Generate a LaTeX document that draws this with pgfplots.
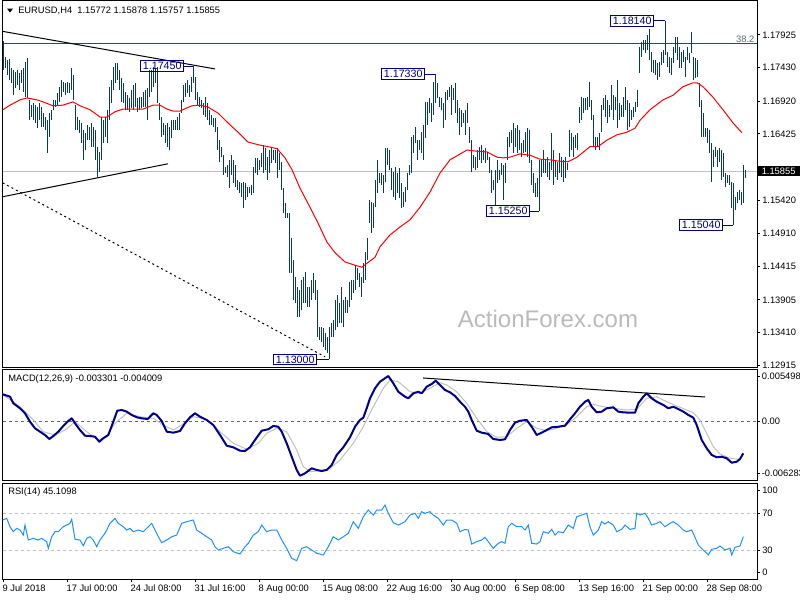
\documentclass[border=0pt]{standalone}
\usepackage{pgfplots}
\pgfplotsset{compat=1.18}
\usepackage{pgfplotstable}
\usepackage{fontspec}
\setmainfont{Liberation Sans}
\definecolor{barc}{RGB}{10,58,88}
\definecolor{navy}{RGB}{0,0,128}
\definecolor{macdc}{RGB}{0,0,139}
\definecolor{sigc}{RGB}{192,192,192}
\definecolor{rsic}{RGB}{30,144,255}
\definecolor{fibc}{RGB}{47,79,79}
\definecolor{lgray}{RGB}{192,192,192}

\pgfplotstableread{
x hi lo
3 1.1783 1.1739
5 1.1759 1.1742
7 1.1755 1.1732
9 1.1756 1.1724
11 1.1742 1.1720
13 1.1739 1.1701
15 1.1736 1.1712
17 1.1739 1.1717
19 1.1735 1.1709
21 1.1739 1.1720
23 1.1742 1.1706
25 1.1752 1.1698
27 1.1758 1.1697
29 1.1694 1.1663
31 1.1686 1.1668
33 1.1689 1.1663
35 1.1686 1.1659
37 1.1683 1.1651
39 1.1689 1.1663
41 1.1683 1.1653
43 1.1674 1.1653
45 1.1668 1.1648
47 1.1663 1.1613
49 1.1674 1.1638
51 1.1679 1.1663
53 1.1694 1.1679
55 1.1694 1.1683
57 1.1705 1.1686
59 1.1714 1.1691
61 1.1724 1.1698
63 1.1721 1.1706
65 1.1720 1.1701
67 1.1721 1.1705
69 1.1720 1.1705
71 1.1742 1.1709
73 1.1732 1.1694
75 1.1686 1.1648
77 1.1668 1.1648
79 1.1663 1.1644
81 1.1659 1.1629
83 1.1648 1.1603
85 1.1644 1.1618
87 1.1656 1.1633
89 1.1653 1.1633
91 1.1659 1.1623
93 1.1653 1.1623
95 1.1648 1.1603
97 1.1623 1.1577
99 1.1615 1.1585
101 1.1668 1.1603
103 1.1663 1.1629
105 1.1668 1.1638
107 1.1679 1.1629
109 1.1714 1.1663
111 1.1724 1.1689
113 1.1744 1.1709
115 1.1750 1.1720
117 1.1750 1.1724
119 1.1739 1.1709
121 1.1727 1.1691
123 1.1720 1.1689
125 1.1706 1.1679
127 1.1701 1.1679
129 1.1697 1.1676
131 1.1709 1.1682
133 1.1717 1.1679
135 1.1720 1.1683
137 1.1697 1.1676
139 1.1698 1.1679
141 1.1698 1.1682
143 1.1706 1.1683
145 1.1709 1.1683
147 1.1712 1.1663
149 1.1739 1.1698
151 1.1739 1.1706
153 1.1744 1.1714
155 1.1742 1.1720
157 1.1744 1.1689
159 1.1689 1.1663
161 1.1668 1.1638
163 1.1659 1.1641
165 1.1656 1.1629
167 1.1659 1.1623
169 1.1653 1.1618
171 1.1663 1.1636
173 1.1663 1.1648
175 1.1663 1.1648
177 1.1668 1.1648
179 1.1674 1.1648
181 1.1694 1.1674
183 1.1717 1.1691
185 1.1720 1.1698
187 1.1724 1.1704
189 1.1717 1.1698
191 1.1729 1.1706
193 1.1745 1.1720
195 1.1729 1.1694
197 1.1706 1.1686
199 1.1698 1.1683
201 1.1694 1.1682
203 1.1689 1.1671
205 1.1698 1.1668
207 1.1689 1.1663
209 1.1679 1.1656
211 1.1671 1.1656
213 1.1667 1.1653
215 1.1667 1.1645
217 1.1653 1.1618
219 1.1633 1.1600
221 1.1623 1.1607
223 1.1610 1.1580
225 1.1592 1.1583
227 1.1595 1.1577
229 1.1603 1.1560
231 1.1610 1.1580
233 1.1603 1.1568
235 1.1595 1.1562
237 1.1572 1.1557
239 1.1569 1.1553
241 1.1568 1.1547
243 1.1569 1.1530
245 1.1568 1.1542
247 1.1562 1.1547
249 1.1562 1.1553
251 1.1565 1.1550
253 1.1592 1.1553
255 1.1606 1.1583
257 1.1606 1.1580
259 1.1603 1.1588
261 1.1613 1.1592
263 1.1626 1.1583
265 1.1621 1.1588
267 1.1607 1.1572
269 1.1618 1.1583
271 1.1621 1.1598
273 1.1618 1.1603
275 1.1618 1.1598
277 1.1621 1.1575
279 1.1613 1.1588
281 1.1600 1.1557
283 1.1560 1.1522
285 1.1538 1.1515
287 1.1522 1.1515
289 1.1522 1.1431
291 1.1484 1.1431
293 1.1451 1.1390
295 1.1425 1.1386
297 1.1410 1.1364
299 1.1405 1.1364
301 1.1421 1.1375
303 1.1425 1.1386
305 1.1433 1.1386
307 1.1410 1.1380
309 1.1410 1.1380
311 1.1421 1.1390
313 1.1431 1.1401
315 1.1421 1.1390
317 1.1405 1.1334
319 1.1349 1.1330
321 1.1349 1.1327
323 1.1348 1.1319
325 1.1340 1.1314
327 1.1334 1.1310
329 1.1349 1.1300
331 1.1355 1.1334
333 1.1360 1.1334
335 1.1390 1.1345
337 1.1398 1.1349
339 1.1386 1.1355
341 1.1410 1.1355
343 1.1390 1.1349
345 1.1395 1.1370
347 1.1390 1.1370
349 1.1418 1.1380
351 1.1421 1.1390
353 1.1421 1.1401
355 1.1443 1.1405
357 1.1439 1.1421
359 1.1431 1.1410
361 1.1425 1.1395
363 1.1446 1.1416
365 1.1463 1.1421
367 1.1484 1.1451
369 1.1542 1.1507
371 1.1539 1.1492
373 1.1538 1.1499
375 1.1572 1.1531
377 1.1603 1.1553
379 1.1583 1.1568
381 1.1583 1.1565
383 1.1580 1.1553
385 1.1621 1.1569
387 1.1621 1.1595
389 1.1618 1.1588
391 1.1591 1.1557
393 1.1585 1.1547
395 1.1592 1.1542
397 1.1583 1.1553
399 1.1591 1.1545
401 1.1568 1.1530
403 1.1554 1.1531
405 1.1562 1.1539
407 1.1583 1.1557
409 1.1595 1.1580
411 1.1638 1.1583
413 1.1641 1.1613
415 1.1653 1.1629
417 1.1633 1.1603
419 1.1633 1.1618
421 1.1645 1.1613
423 1.1656 1.1603
425 1.1691 1.1636
427 1.1691 1.1656
429 1.1697 1.1674
431 1.1689 1.1660
433 1.1721 1.1671
435 1.1733 1.1689
437 1.1720 1.1697
439 1.1698 1.1683
441 1.1697 1.1679
443 1.1689 1.1651
445 1.1706 1.1663
447 1.1709 1.1694
449 1.1714 1.1698
451 1.1717 1.1671
453 1.1712 1.1694
455 1.1720 1.1674
457 1.1694 1.1659
459 1.1682 1.1641
461 1.1679 1.1653
463 1.1674 1.1659
465 1.1679 1.1641
467 1.1689 1.1659
469 1.1653 1.1629
471 1.1633 1.1585
473 1.1610 1.1591
475 1.1607 1.1588
477 1.1618 1.1591
479 1.1623 1.1603
481 1.1626 1.1598
483 1.1618 1.1603
485 1.1621 1.1598
487 1.1615 1.1603
489 1.1607 1.1583
491 1.1588 1.1553
493 1.1572 1.1557
495 1.1588 1.1534
497 1.1603 1.1568
499 1.1588 1.1572
501 1.1598 1.1580
503 1.1595 1.1542
505 1.1598 1.1568
507 1.1638 1.1603
509 1.1645 1.1623
511 1.1648 1.1629
513 1.1659 1.1613
515 1.1651 1.1623
517 1.1656 1.1613
519 1.1648 1.1618
521 1.1629 1.1607
523 1.1633 1.1613
525 1.1645 1.1615
527 1.1651 1.1607
529 1.1648 1.1598
531 1.1603 1.1565
533 1.1583 1.1553
535 1.1568 1.1547
537 1.1575 1.1547
539 1.1603 1.1525
541 1.1603 1.1577
543 1.1618 1.1583
545 1.1603 1.1583
547 1.1607 1.1577
549 1.1600 1.1572
551 1.1644 1.1588
553 1.1618 1.1565
555 1.1603 1.1577
557 1.1600 1.1572
559 1.1613 1.1583
561 1.1607 1.1577
563 1.1603 1.1569
565 1.1607 1.1575
567 1.1598 1.1588
569 1.1648 1.1607
571 1.1644 1.1618
573 1.1638 1.1607
575 1.1641 1.1621
577 1.1644 1.1618
579 1.1683 1.1659
581 1.1698 1.1663
583 1.1697 1.1674
585 1.1697 1.1679
587 1.1698 1.1679
589 1.1721 1.1683
591 1.1694 1.1663
593 1.1671 1.1623
595 1.1638 1.1618
597 1.1638 1.1623
599 1.1644 1.1618
601 1.1686 1.1645
603 1.1697 1.1679
605 1.1701 1.1668
607 1.1694 1.1659
609 1.1686 1.1668
611 1.1717 1.1679
613 1.1701 1.1663
615 1.1698 1.1679
617 1.1724 1.1651
619 1.1689 1.1663
621 1.1686 1.1668
623 1.1698 1.1668
625 1.1714 1.1679
627 1.1694 1.1648
629 1.1689 1.1653
631 1.1679 1.1663
633 1.1683 1.1668
635 1.1691 1.1676
637 1.1709 1.1683
639 1.1774 1.1735
641 1.1782 1.1759
643 1.1785 1.1770
645 1.1785 1.1765
647 1.1793 1.1770
649 1.1802 1.1755
651 1.1767 1.1736
653 1.1755 1.1735
655 1.1755 1.1732
657 1.1750 1.1724
659 1.1752 1.1729
661 1.1767 1.1747
663 1.1770 1.1750
665 1.1814 1.1762
667 1.1767 1.1744
669 1.1759 1.1735
671 1.1758 1.1732
673 1.1774 1.1750
675 1.1789 1.1765
677 1.1789 1.1755
679 1.1774 1.1742
681 1.1767 1.1742
683 1.1770 1.1752
685 1.1759 1.1729
687 1.1774 1.1755
689 1.1765 1.1750
691 1.1797 1.1765
693 1.1759 1.1724
695 1.1758 1.1727
697 1.1755 1.1729
699 1.1720 1.1683
701 1.1694 1.1638
703 1.1674 1.1638
705 1.1651 1.1638
707 1.1651 1.1629
709 1.1648 1.1613
711 1.1629 1.1569
713 1.1618 1.1592
715 1.1623 1.1607
717 1.1618 1.1592
719 1.1621 1.1600
721 1.1618 1.1572
723 1.1613 1.1577
725 1.1583 1.1562
727 1.1580 1.1568
729 1.1580 1.1565
731 1.1569 1.1530
733 1.1568 1.1504
735 1.1547 1.1527
737 1.1554 1.1538
739 1.1557 1.1542
741 1.1554 1.1534
743 1.1595 1.1538
745 1.1588 1.1576
}\bars

\pgfplotsset{
  mtpanel/.style={
    scale only axis, width=565.725pt, xmin=2.7, xmax=757,
    anchor=south west,
    axis line style={line width=0.75pt},
    tick style={line width=0.75pt, black},
    tick align=outside, major tick length=2.25pt,
    ytick pos=right, yticklabel pos=right,
    scaled ticks=false,
    tick label style={font=\fontsize{7}{8}\selectfont},
    yticklabel style={anchor=west, inner sep=1.5pt},
    clip mode=individual,
  },
}
\tikzset{
  plab/.style={draw=navy, text=navy, line width=0.75pt,
    font=\fontsize{8}{9}\selectfont, inner xsep=1.5pt, inner ysep=1.2pt, anchor=east},
}

\begin{document}
\begin{tikzpicture}
\useasboundingbox (0,0) rectangle (600pt,450pt);

% ---------------- main price panel ----------------
\begin{axis}[mtpanel, at={(2.025pt,174pt)}, height=275.25pt,
  ymin=1.128701, ymax=1.184411, xtick=\empty,
  ytick={1.17925,1.17430,1.16920,1.16425,1.15420,1.14910,1.14415,1.13905,1.13410,1.12915},
  yticklabels={1.17925,1.17430,1.16920,1.16425,1.15420,1.14910,1.14415,1.13905,1.13410,1.12915}]
\addplot[lgray, line width=0.75pt] coordinates {(2.7,1.15855) (757,1.15855)};
\addplot[fibc, line width=0.75pt] coordinates {(2.7,1.1779) (757,1.1779)};
\addplot[draw=none, mark=none,
  error bars/.cd, y dir=both, y explicit, error mark=none,
  error bar style={line width=0.7pt, draw=barc, solid}]
  table[x=x, y expr={(\thisrow{hi}+\thisrow{lo})/2}, y error expr={(\thisrow{hi}-\thisrow{lo})/2}] {\bars};
\addplot[red, line width=0.75pt] coordinates {
(3,1.1679)(10,1.1686)(20,1.1694)(27,1.1697)(37,1.1694)(43,1.1691)(53,1.1685)(63,1.1686)
(73,1.1691)(80,1.1685)(90,1.1679)(100,1.1668)(107,1.1668)(115,1.1676)(123,1.1680)(133,1.1680)
(143,1.1680)(153,1.1686)(160,1.1686)(167,1.1680)(173,1.1677)(180,1.1677)(187,1.1682)(192,1.1685)
(200,1.1686)(208,1.1683)(218,1.1674)(228,1.1659)(238,1.1645)(248,1.1630)(258,1.1626)(268,1.1623)
(277,1.1620)(285,1.1606)(292,1.1588)(300,1.1560)(310,1.1531)(318,1.1507)(327,1.1478)(335,1.1462)
(345,1.1448)(355,1.1443)(362,1.1440)(367,1.1446)(375,1.1455)(380,1.1471)(390,1.1489)(400,1.1501)
(410,1.1512)(420,1.1531)(430,1.1554)(440,1.1583)(450,1.1603)(458,1.1610)(467,1.1618)(477,1.1616)
(487,1.1615)(497,1.1607)(503,1.1606)(510,1.1607)(520,1.1612)(530,1.1610)(540,1.1604)(550,1.1603)
(559,1.1601)(568,1.1600)(577,1.1607)(590,1.1623)(598,1.1623)(607,1.1633)(617,1.1641)(627,1.1645)
(635,1.1651)(640,1.1663)(650,1.1679)(663,1.1694)(673,1.1701)(683,1.1714)(693,1.1720)(697,1.1720)
(703,1.1714)(713,1.1698)(723,1.1679)(733,1.1659)(742,1.1644)};
\addplot[black, line width=0.75pt] coordinates {(2.7,1.1798) (215,1.1741)};
\addplot[black, line width=0.75pt] coordinates {(2.7,1.1547) (168,1.1597)};
\addplot[black, line width=0.75pt, dash pattern=on 1.5pt off 2.25pt] coordinates {(2.7,1.1568) (325,1.1304)};
% price labels
\node[plab] at (axis cs:184,1.1745) {1.17450};
\draw[navy, line width=0.75pt] (axis cs:184,1.1745) -- (axis cs:193,1.1745);
\node[plab] at (axis cs:425,1.1733) {1.17330};
\draw[navy, line width=0.75pt] (axis cs:425,1.1733) -- (axis cs:435,1.1733);
\node[plab] at (axis cs:654,1.1814) {1.18140};
\draw[navy, line width=0.75pt] (axis cs:654,1.1814) -- (axis cs:665,1.1814);
\node[plab] at (axis cs:530,1.1525) {1.15250};
\draw[navy, line width=0.75pt] (axis cs:530,1.1525) -- (axis cs:539,1.1525);
\node[plab] at (axis cs:723,1.1504) {1.15040};
\draw[navy, line width=0.75pt] (axis cs:723,1.1504) -- (axis cs:733,1.1504);
\node[plab] at (axis cs:317,1.1300) {1.13000};
\draw[navy, line width=0.75pt] (axis cs:317,1.1300) -- (axis cs:329,1.1300);
\node[anchor=south east, inner sep=1pt, text=fibc!85, font=\fontsize{7}{8}\selectfont] at (axis cs:756,1.1779) {38.2};
\node[anchor=west, fill=black, text=white, inner xsep=3pt, inner ysep=1.3pt, font=\fontsize{7}{8}\selectfont] at (axis cs:757.5,1.15855) {1.15855};
\end{axis}

% ---------------- MACD panel ----------------
\begin{axis}[mtpanel, at={(2.025pt,89.25pt)}, height=83.25pt,
  ymin=-0.007251, ymax=0.006230, xtick=\empty,
  ytick={0.00542,0,-0.00634}, yticklabels={0.005498,0.00,-0.006283},
  yticklabel style={inner sep=1.2pt}]
\addplot[black!60, line width=0.75pt, dash pattern=on 2.25pt off 2.25pt] coordinates {(2.7,0) (757,0)};
\addplot[sigc, line width=0.75pt] coordinates {
(3.3,0.00319)(20,0.00177)(33.3,0.00016)(43.3,-0.00126)(55,-0.00166)(65,-0.00106)(75,-0.00005)
(86.7,-0.00126)(98.3,-0.00227)(106.7,-0.00187)(115,-0.00024)(126.7,0.00097)(140,0.00056)
(153.3,0.00036)(163.3,-0.00045)(173.3,-0.00106)(181.7,-0.00045)(193.3,0.00056)(206.7,0.00024)
(220,-0.00126)(233.3,-0.00267)(246.7,-0.00340)(258.3,-0.00267)(266.7,-0.00146)(276.7,-0.00085)
(286.7,-0.00126)(296.7,-0.00349)(303.3,-0.00551)(310,-0.00612)(320,-0.00600)(330,-0.00571)
(340,-0.00470)(353.3,-0.00267)(363.3,-0.00066)(373.3,0.00177)(383.3,0.00401)(390,0.00502)
(398.3,0.00481)(410,0.00359)(420,0.00340)(430,0.00401)(440,0.00469)(446.7,0.00441)(456.7,0.00359)
(466.7,0.00219)(476.7,0.00036)(486.7,-0.00126)(496.7,-0.00194)(506.7,-0.00187)(516.7,-0.00085)
(526.7,-0.00005)(536.7,-0.00085)(546.7,-0.00114)(556.7,-0.00085)(566.7,-0.00045)(576.7,0.00056)
(586.7,0.00177)(593.3,0.00206)(603.3,0.00177)(613.3,0.00158)(626.7,0.00137)(636.7,0.00146)
(646.7,0.00279)(656.7,0.00299)(666.7,0.00238)(676.7,0.00186)(686.7,0.00137)(693.3,0.00104)
(700,0.00016)(706.7,-0.00146)(713.3,-0.00308)(720,-0.00397)(730,-0.00449)(740,-0.00462)};
\addplot[macdc, line width=1.5pt, line join=round] coordinates {
(2.7,0.00328)(10,0.00299)(13.3,0.00219)(20,0.00158)(25,0.00097)(30,-0.00005)(35,-0.00085)
(40,-0.00126)(45,-0.00166)(49.3,-0.00215)(53.3,-0.00179)(58.3,-0.00126)(63.3,-0.00057)(68.3,0.00004)
(71.7,0.00036)(75,-0.00024)(80,-0.00106)(85,-0.00175)(90,-0.00179)(95,-0.00187)(99.3,-0.00248)
(103.3,-0.00206)(108.3,-0.00166)(113.3,-0.00005)(117.3,0.00129)(121.7,0.00137)(126.7,0.00117)
(131.7,0.00077)(136.7,0.00049)(141.7,0.00036)(147.7,0.00028)(153.3,0.00097)(156.7,0.00077)
(161.7,0.00004)(166.7,-0.00126)(173.3,-0.00138)(180,-0.00118)(185,-0.00024)(190,0.00049)
(195,0.00097)(200,0.00056)(206.7,0.00016)(213.3,-0.00045)(220,-0.00166)(226.7,-0.00296)
(233.3,-0.00316)(240,-0.00357)(245,-0.00361)(250,-0.00316)(255,-0.00227)(261.7,-0.00114)
(268.3,-0.00097)(273.3,-0.00057)(278.3,-0.00066)(281.7,-0.00126)(286.7,-0.00267)(291.7,-0.00430)
(296.7,-0.00591)(300,-0.00661)(305,-0.00632)(311.7,-0.00571)(316.7,-0.00591)(321.7,-0.00604)
(326.7,-0.00591)(331.7,-0.00531)(336.7,-0.00409)(343.3,-0.00316)(350,-0.00194)(355,-0.00066)
(360,0.00016)(363.3,0.00044)(366.7,0.00158)(370,0.00279)(375,0.00401)(380,0.00481)(388.3,0.00550)
(393.3,0.00462)(398.3,0.00359)(405,0.00299)(408.3,0.00279)(413.3,0.00340)(418.3,0.00359)
(421.7,0.00340)(426.7,0.00420)(431.7,0.00453)(435.7,0.00493)(440,0.00441)(445,0.00380)
(450,0.00352)(455,0.00307)(460,0.00238)(465,0.00177)(468.3,0.00117)(471.7,0.00016)(476.7,-0.00114)
(481.7,-0.00138)(488.3,-0.00154)(493.3,-0.00215)(500,-0.00227)(505,-0.00219)(510,-0.00106)
(515,-0.00017)(520,0.00007)(526.7,0.00016)(531.7,-0.00066)(536.7,-0.00166)(541.7,-0.00138)
(546.7,-0.00106)(551.7,-0.00073)(558.3,-0.00066)(565,-0.00053)(570,0.00024)(575,0.00097)
(580,0.00177)(585,0.00238)(588.3,0.00259)(591.7,0.00177)(596.7,0.00109)(601.7,0.00117)
(606.7,0.00158)(613.3,0.00170)(618.3,0.00117)(623.3,0.00109)(630,0.00104)(635,0.00104)
(638.3,0.00219)(643.3,0.00299)(646.7,0.00340)(651.7,0.00279)(656.7,0.00238)(663.3,0.00198)
(668.3,0.00158)(673.3,0.00177)(678.3,0.00149)(683.3,0.00117)(688.3,0.00077)(693.3,0.00044)
(696.7,-0.00045)(701.7,-0.00227)(706.7,-0.00328)(711.7,-0.00409)(716.7,-0.00437)(721.7,-0.00430)
(726.7,-0.00449)(731.7,-0.00503)(736.7,-0.00491)(740,-0.00458)(743.3,-0.00389)};
\addplot[black, line width=0.75pt] coordinates {(423,0.00526) (705,0.00295)};
\end{axis}

% ---------------- RSI panel ----------------
\begin{axis}[mtpanel, at={(2.025pt,15.75pt)}, height=72pt,
  ymin=-0.2, ymax=102.5,
  ytick={94.2,70,30,6.9}, yticklabels={100,70,30,0},
  xtick pos=left,
  xtick={3,67,131,195,259,323,387,451,515,579,643,707},
  xticklabels={9 Jul 2018,17 Jul 00:00,24 Jul 08:00,31 Jul 16:00,8 Aug 00:00,15 Aug 08:00,22 Aug 16:00,30 Aug 00:00,6 Sep 08:00,13 Sep 16:00,21 Sep 00:00,28 Sep 08:00},
  xticklabel style={anchor=north west, inner sep=0pt, xshift=-0.5pt, yshift=-2pt}]
\addplot[lgray, line width=0.75pt, dash pattern=on 2.25pt off 2.25pt] coordinates {(2.7,70) (757,70)};
\addplot[lgray, line width=0.75pt, dash pattern=on 2.25pt off 2.25pt] coordinates {(2.7,30) (757,30)};
\addplot[rsic, line width=0.75pt] coordinates {
(2.7,62.9)(6.7,64.7)(10,55.7)(13.3,50.4)(16.7,54.0)(20,52.2)(23.3,46.8)(25,57.5)(28.3,41.5)
(33.3,43.3)(38.3,41.5)(41.7,43.3)(46.7,39.7)(48.3,32.6)(51.7,45.0)(55,50.4)(58.3,50.4)(63.3,55.7)
(66.7,57.5)(70,59.4)(71.7,63.6)(75,42.2)(80,41.5)(83.3,35.4)(86.7,43.3)(90,45.0)(93.3,41.5)
(96.7,34.3)(100,41.5)(105,48.7)(106.7,52.2)(110,59.4)(115,64.7)(118.3,59.4)(123.3,55.7)(126.7,52.2)
(130,54.0)(133.3,50.4)(138.3,52.2)(143.3,50.4)(148.3,55.7)(151.7,59.4)(155,52.2)(158.3,45.0)
(161.7,38.6)(166.7,41.5)(171.7,45.0)(176.7,46.8)(181.7,59.4)(186.7,61.1)(193.3,62.9)(196.7,52.2)
(201.7,48.7)(206.7,45.0)(211.7,41.5)(215,34.3)(218.3,30.8)(223.3,32.6)(228.3,34.3)(233.3,29.0)
(240,26.5)(245,34.3)(248.3,38.0)(253.3,46.8)(258.3,50.4)(261.7,57.5)(266.7,50.4)(271.7,52.2)
(276.7,52.2)(281.7,41.5)(286.7,32.6)(291.7,21.9)(296.7,19.4)(301.7,32.6)(306.7,34.3)(311.7,30.8)
(316.7,27.3)(323.3,25.5)(328.3,34.3)(333.3,45.0)(338.3,41.5)(343.3,45.0)(348.3,48.7)(353.3,61.1)
(358.3,54.0)(363.3,66.4)(368.3,73.6)(373.3,68.2)(376.7,73.6)(381.7,73.6)(385,78.9)(388.3,70.1)
(393.3,60.0)(398.3,57.5)(405,61.1)(410,68.2)(415,70.1)(418.3,64.7)(421.7,71.8)(425,70.1)(430,71.8)
(433.3,68.2)(438.3,64.7)(443.3,57.5)(446.7,62.9)(451.7,62.9)(456.7,59.4)(460,50.4)(465,52.9)
(468.3,52.2)(471.7,37.2)(476.7,39.7)(481.7,41.5)(485,44.4)(488.3,39.7)(493.3,32.6)(498.3,38.0)
(501.7,39.7)(505,38.0)(508.3,55.7)(511.7,59.4)(516.7,55.7)(521.7,55.7)(525,52.2)(528.3,57.5)
(531.7,38.0)(536.7,37.2)(540,39.7)(543.3,50.4)(548.3,48.7)(551.7,52.9)(555,46.8)(558.3,50.4)
(563.3,49.3)(568.3,57.5)(573.3,54.0)(576.7,66.4)(581.7,68.2)(586.7,70.1)(590,55.7)(593.3,46.8)
(598.3,52.2)(601.7,61.1)(605,58.6)(608.3,61.1)(613.3,57.5)(616.7,50.4)(621.7,52.9)(625,57.5)
(630,52.9)(635,54.0)(636.7,70.1)(640,68.2)(645,70.1)(648.3,64.7)(651.7,57.5)(656.7,59.4)(660,61.1)
(665,55.7)(670,59.4)(673.3,61.1)(678.3,57.5)(683.3,52.2)(686.7,50.4)(691.7,52.2)(695,44.4)
(698.3,36.1)(703.3,30.8)(708.3,25.5)(711.7,31.6)(716.7,32.6)(720,35.1)(725,30.8)(730,32.6)
(731.7,25.5)(735,33.7)(740,35.1)(743.3,45.1)};
\end{axis}

% ---------------- texts ----------------
\fill[black] (5.25pt,443.6pt) -- (9.75pt,443.6pt) -- (7.5pt,440.6pt) -- cycle;
\node[anchor=west, inner sep=0pt, font=\fontsize{7}{8}\selectfont] at (13.5pt,441.75pt) {EURUSD,H4\ \ 1.15772 1.15878 1.15757 1.15855};
\node[anchor=west, inner sep=0pt, font=\fontsize{7}{8}\selectfont] at (6pt,165.75pt) {MACD(12,26,9) -0.003301 -0.004009};
\node[anchor=west, inner sep=0pt, font=\fontsize{7}{8}\selectfont] at (6pt,81pt) {RSI(14) 45.1098};
\node[text=black!27, font=\fontsize{18}{20}\selectfont] at (411pt,210.75pt) {ActionForex.com};
\end{tikzpicture}
\end{document}
